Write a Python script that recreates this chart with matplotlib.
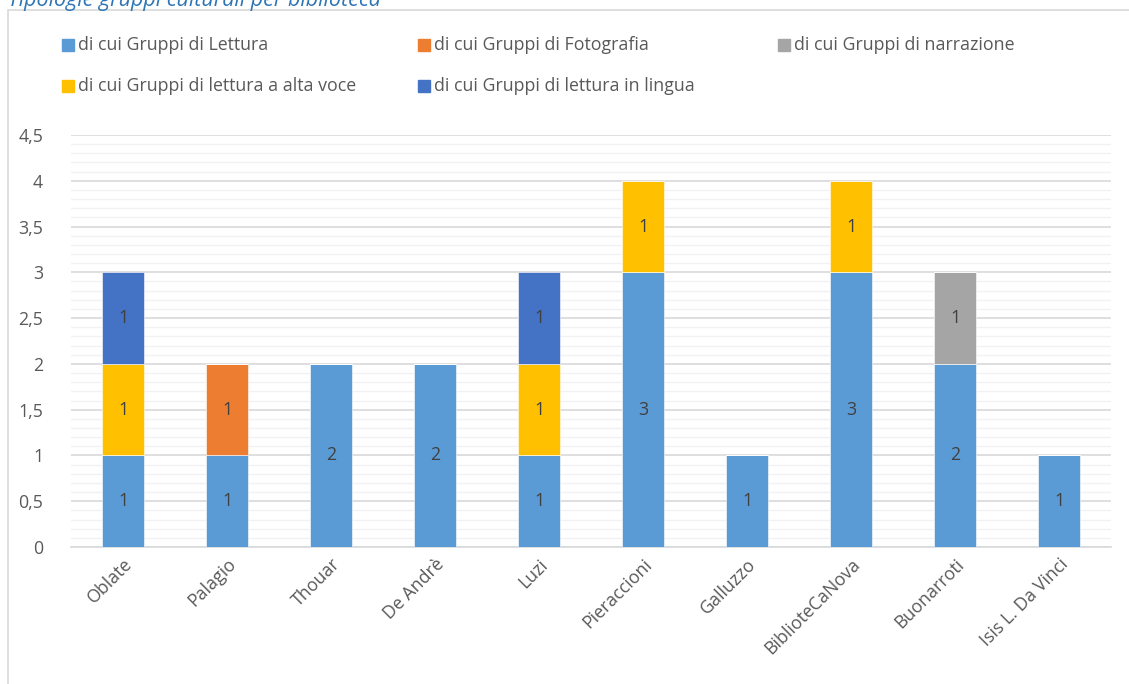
import matplotlib.pyplot as plt
import numpy as np
from matplotlib.patches import Rectangle

# dati
biblioteche = ['Oblate', 'Palagio', 'Thouar', 'De Andrè', 'Luzi', 'Pieraccioni',
               'Galluzzo', 'BiblioteCaNova', 'Buonarroti', 'Isis L. Da Vinci']
lettura = [1, 1, 2, 2, 1, 3, 1, 3, 2, 1]
fotografia = [0, 1, 0, 0, 0, 0, 0, 0, 0, 0]
narrazione = [0, 0, 0, 0, 0, 0, 0, 0, 1, 0]
alta_voce = [1, 0, 0, 0, 1, 1, 0, 1, 0, 0]
lingua = [1, 0, 0, 0, 1, 0, 0, 0, 0, 0]

serie = [
    ('di cui Gruppi di Lettura', lettura, '#5B9BD5'),
    ('di cui Gruppi di Fotografia', fotografia, '#ED7D31'),
    ('di cui Gruppi di narrazione', narrazione, '#A5A5A5'),
    ('di cui Gruppi di lettura a alta voce', alta_voce, '#FFC000'),
    ('di cui Gruppi di lettura in lingua', lingua, '#4472C4'),
]

plt.rcParams['font.family'] = ['Open Sans', 'DejaVu Sans']
testo = '#595959'
fs = 12.8

W, H = 1129, 684
fig = plt.figure(figsize=(W / 100, H / 100), dpi=100)
ax = fig.add_axes([71 / W, (H - 547) / H, 1040 / W, (547 - 135) / H])

x = np.arange(len(biblioteche))
base = np.zeros(len(biblioteche))
for nome, valori, colore in serie:
    v = np.array(valori, dtype=float)
    bars = ax.bar(x, v, bottom=base, width=0.4, color=colore,
                  edgecolor='white', linewidth=0.4, zorder=3)
    for b, val in zip(bars, v):
        if val > 0:
            ax.text(b.get_x() + b.get_width() / 2, b.get_y() + val / 2,
                    f'{int(val)}', ha='center', va='center',
                    fontsize=fs, color='#404040', zorder=4)
    base += v

ax.set_xlim(-0.5, len(biblioteche) - 0.5)
ax.set_ylim(0, 4.5)
ax.set_yticks(np.arange(0, 4.51, 0.5))
ax.set_yticklabels([f'{t:g}'.replace('.', ',') for t in np.arange(0, 4.51, 0.5)])
ax.set_yticks(np.arange(0, 4.51, 0.1), minor=True)
ax.grid(axis='y', which='major', color='#D9D9D9', linewidth=1.2, zorder=0)
ax.grid(axis='y', which='minor', color='#F2F2F2', linewidth=1.0, zorder=0)
ax.tick_params(axis='y', which='both', length=0, labelsize=fs,
               labelcolor=testo, pad=20)
ax.tick_params(axis='x', length=0, labelsize=fs, labelcolor=testo, pad=6)
ax.set_xticks(x)
ax.set_xticklabels(biblioteche, rotation=45, ha='right', rotation_mode='anchor')
for s in ['top', 'right', 'left']:
    ax.spines[s].set_visible(False)
ax.spines['bottom'].set_color('#D9D9D9')
ax.spines['bottom'].set_linewidth(1.2)

# legenda
pos_legenda = [(62, 45), (418, 45), (778, 45), (62, 86), (418, 86)]
for (nome, valori, colore), (px, py) in zip(serie, pos_legenda):
    fig.patches.append(Rectangle((px / W, 1 - (py + 6) / H), 12 / W, 12 / H,
                                 transform=fig.transFigure, color=colore))
    fig.text((px + 16) / W, 1 - py / H, nome, ha='left', va='center',
             fontsize=fs, color=testo)

# cornice del grafico
fig.patches.append(Rectangle((8 / W, -0.01), 1.2, 1 - 10 / H + 0.01,
                             transform=fig.transFigure, fill=False,
                             edgecolor='#D9D9D9', linewidth=1.2))

fig.text(8 / W, 1 - 6 / H, 'Tipologie gruppi culturali per biblioteca',
         ha='left', va='baseline', fontsize=15.5, style='italic',
         color='#2E75B6')

fig.savefig('out.png', dpi=100)
